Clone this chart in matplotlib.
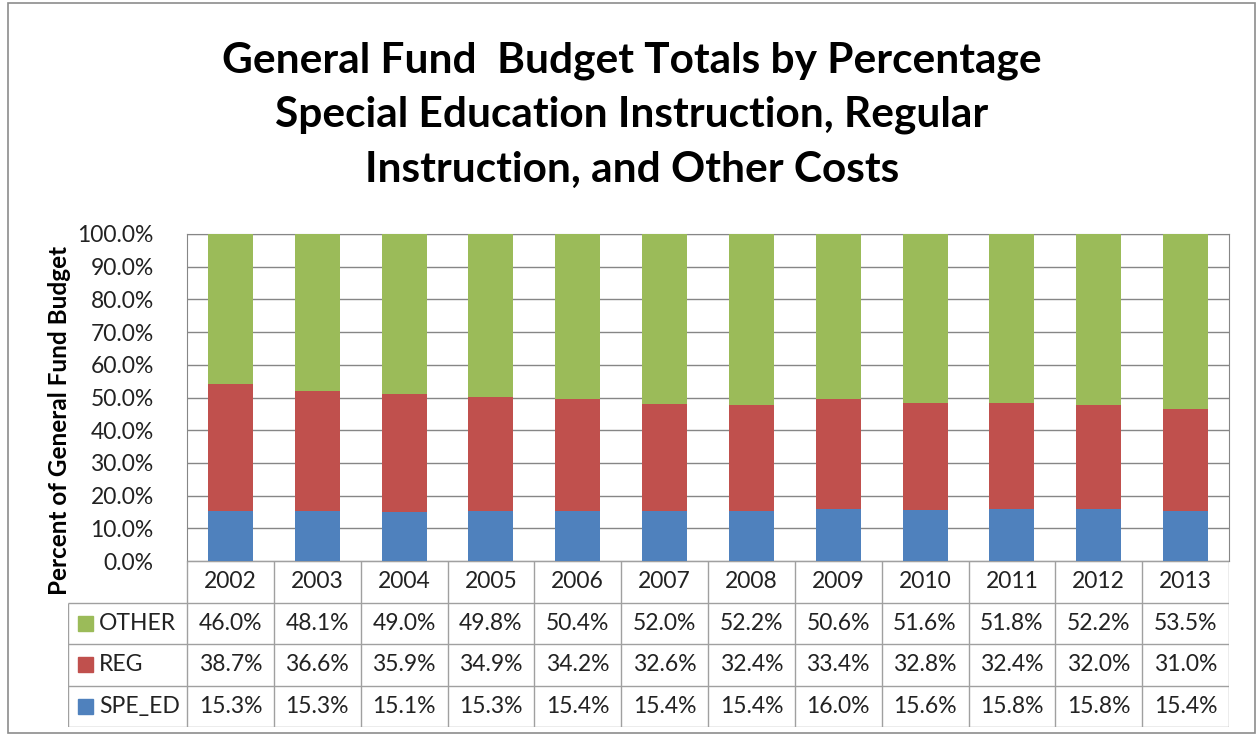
import matplotlib
matplotlib.use("Agg")
import matplotlib.pyplot as plt
from matplotlib.patches import Rectangle
import numpy as np

plt.rcParams['font.family'] = ['Lato', 'DejaVu Sans']

years = ['2002', '2003', '2004', '2005', '2006', '2007',
         '2008', '2009', '2010', '2011', '2012', '2013']
spe_ed = [15.3, 15.3, 15.1, 15.3, 15.4, 15.4, 15.4, 16.0, 15.6, 15.8, 15.8, 15.4]
reg = [38.7, 36.6, 35.9, 34.9, 34.2, 32.6, 32.4, 33.4, 32.8, 32.4, 32.0, 31.0]
other = [46.0, 48.1, 49.0, 49.8, 50.4, 52.0, 52.2, 50.6, 51.6, 51.8, 52.2, 53.5]

series_names = ['OTHER', 'REG', 'SPE_ED']
c_blue = '#4F81BD'
c_red = '#C0504D'
c_green = '#9BBB59'
grid_c = '#868686'
txt_c = '#222222'
fs = 16.5

W, H = 1257, 736
fig = plt.figure(figsize=(W / 100, H / 100), dpi=100)

# outer chart border
fig.patches.append(Rectangle((8 / W, 3 / H), (1255 - 8) / W, (733 - 3) / H,
                             transform=fig.transFigure, fill=False,
                             edgecolor='#8c8c8c', lw=1.2))

px_l, px_r, px_t, px_b = 187, 1229, 234, 561
ax = fig.add_axes([px_l / W, 1 - px_b / H, (px_r - px_l) / W, (px_b - px_t) / H])

x = np.arange(len(years))
bw = 0.52
ax.bar(x, spe_ed, bw, color=c_blue, zorder=3)
ax.bar(x, reg, bw, bottom=spe_ed, color=c_red, zorder=3)
ax.bar(x, other, bw, bottom=np.array(spe_ed) + np.array(reg), color=c_green, zorder=3)

ax.set_xlim(-0.5, len(years) - 0.5)
ax.set_ylim(0, 100)
ax.set_yticks(np.arange(0, 101, 10))
ax.set_yticklabels(['%.1f%%' % v for v in np.arange(0, 101, 10)], fontsize=fs, color=txt_c)
ax.set_xticks([])
ax.tick_params(axis='y', length=0, pad=24)
ax.yaxis.grid(True, color=grid_c, lw=1)
ax.set_axisbelow(True)
for s in ax.spines.values():
    s.set_color(grid_c)

fig.text(60 / W, 1 - 420 / H, 'Percent of General Fund Budget', rotation=90,
         ha='center', va='center', fontsize=17.5, fontweight='bold')

fig.text(632 / W, 1 - 115 / H,
         'General Fund  Budget Totals by Percentage\nSpecial Education Instruction, Regular\nInstruction, and Other Costs',
         ha='center', va='center', fontsize=30.5, fontweight='bold', linespacing=1.53)

# data table under the plot
tb_l, tb_b = 68, 727
unit = (px_r - px_l) / len(years)
lab_w = (px_l - tb_l) / unit
tax = fig.add_axes([tb_l / W, 1 - tb_b / H, (px_r - tb_l) / W, (tb_b - px_b) / H])
tax.set_xlim(-0.5 - lab_w, len(years) - 0.5)
tax.set_ylim(4, 0)
tax.axis('off')

lc = '#a0a0a0'
tax.hlines(0, -0.5, len(years) - 0.5, color=lc, lw=1)
tax.hlines([1, 2, 3, 4], -0.5 - lab_w, len(years) - 0.5, color=lc, lw=1)
tax.vlines(np.arange(-0.5, len(years)), 0, 4, color=lc, lw=1)
tax.vlines(-0.5 - lab_w, 1, 4, color=lc, lw=1)

for i, yr in enumerate(years):
    tax.text(i, 0.5, yr, ha='center', va='center', fontsize=fs, color=txt_c)

rows = [other, reg, spe_ed]
colors = [c_green, c_red, c_blue]
sq_w = 15 / unit
sq_h = 15 / ((tb_b - px_b) / 4)
for r, (name, vals, col) in enumerate(zip(series_names, rows, colors)):
    yc = r + 1.5
    tax.add_patch(Rectangle((-0.5 - lab_w + 10 / unit, yc - sq_h / 2), sq_w, sq_h,
                            color=col, clip_on=False))
    tax.text(-0.5 - lab_w + 31 / unit, yc, name, ha='left', va='center',
             fontsize=fs, color=txt_c)
    for i, v in enumerate(vals):
        tax.text(i, yc, '%.1f%%' % v, ha='center', va='center', fontsize=fs, color=txt_c)

fig.savefig('out.png', dpi=100)
